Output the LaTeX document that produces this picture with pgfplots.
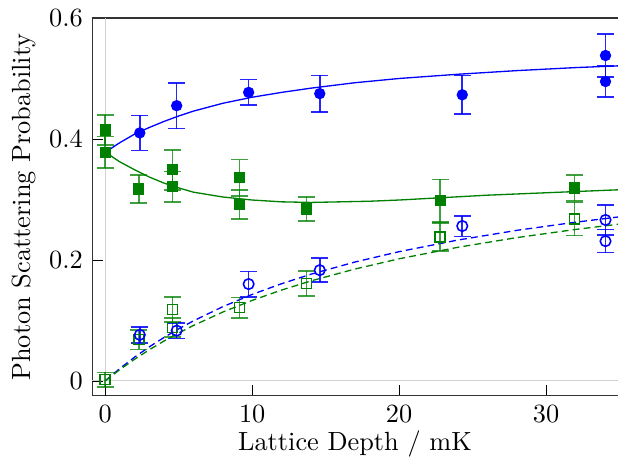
\documentclass[border=0pt]{standalone}
\usepackage{pgfplots}
\pgfplotsset{compat=1.18}

\definecolor{mplblue}{RGB}{0,0,255}
\definecolor{mplgreen}{RGB}{0,128,0}

\begin{document}
\begin{tikzpicture}
  \begin{axis}[
      scale only axis,
      width=200pt, height=143.7pt,
      xmin=-0.9, xmax=34.9,
      ymin=-0.025, ymax=0.6,
      xtick={0,10,20,30},
      ytick={0,0.2,0.4,0.6},
      yticklabels={0,0.2,0.4,0.6},
      xtick pos=bottom,
      axis y line*=left,
      y axis line style={-},
      axis line style={black!80},
      tick style={black},
      tick align=inside,
      extra x ticks={0}, extra x tick labels={},
      extra y ticks={0}, extra y tick labels={},
      extra tick style={grid=major, major grid style={black!18, line width=0.5pt}},
      xlabel={Lattice Depth / mK},
      ylabel={Photon Scattering Probability},
      xlabel style={yshift=3.5pt},
      ylabel style={yshift=-2pt},
      every axis plot/.append style={line width=0.5pt},
      error bars/error bar style={line width=0.6pt},
      error bars/error mark options={rotate=90, mark size=3.2pt, line width=0.6pt},
    ]

    % fitted curves
    \addplot[mplblue, no markers] coordinates {
      (0,0.378) (1,0.394) (2,0.408) (3,0.419) (4,0.429) (5,0.438) (6,0.446)
      (8,0.459) (10,0.469) (12,0.477) (14,0.484) (17,0.493) (20,0.500)
      (24,0.507) (28,0.513) (32,0.518) (35,0.521)
    };
    \addplot[mplgreen, no markers] coordinates {
      (0,0.378) (1,0.362) (2,0.349) (3,0.337) (4,0.327) (5,0.319) (6,0.312)
      (8,0.304) (10,0.299) (12,0.296) (14,0.295) (16,0.296) (18,0.297)
      (20,0.299) (23,0.303) (26,0.307) (29,0.310) (32,0.313) (35,0.316)
    };
    \addplot[mplblue, no markers, dash pattern=on 2.6pt off 1.6pt] coordinates {
      (0,0) (1,0.0205) (2,0.0392) (3,0.0562) (4,0.0717) (5,0.0860) (6,0.0991)
      (8,0.1226) (10,0.1429) (12,0.1606) (14,0.1763) (17,0.1965) (20,0.2136)
      (24,0.2328) (28,0.2488) (32,0.2623) (35,0.2712)
    };
    \addplot[mplgreen, no markers, dash pattern=on 2.6pt off 1.6pt] coordinates {
      (0,0) (1,0.0187) (2,0.0357) (3,0.0514) (4,0.0658) (5,0.0791) (6,0.0915)
      (8,0.1137) (10,0.1330) (12,0.1501) (14,0.1652) (17,0.1849) (20,0.2018)
      (24,0.2208) (28,0.2368) (32,0.2503) (35,0.2592)
    };

    % filled green squares
    \addplot[mplgreen, only marks, mark=square*, mark size=1.9pt,
      error bars/.cd, y dir=both, y explicit,
      error bar style={mplgreen, opacity=0.75}] coordinates {
      (0,0.415) +- (0,0.025)
      (0,0.378) +- (0,0.026)
      (2.28,0.317) +- (0,0.023)
      (4.57,0.349) +- (0,0.033)
      (4.57,0.321) +- (0,0.025)
      (9.15,0.336) +- (0,0.030)
      (9.15,0.292) +- (0,0.024)
      (13.69,0.284) +- (0,0.020)
      (22.8,0.298) +- (0,0.035)
      (31.94,0.319) +- (0,0.021)
    };
    % filled blue circles
    \addplot[mplblue, only marks, mark=*, mark size=1.9pt,
      error bars/.cd, y dir=both, y explicit,
      error bar style={mplblue, opacity=0.85}] coordinates {
      (2.35,0.410) +- (0,0.029)
      (4.86,0.455) +- (0,0.038)
      (9.76,0.477) +- (0,0.021)
      (14.6,0.475) +- (0,0.030)
      (24.3,0.473) +- (0,0.032)
      (34.05,0.538) +- (0,0.036)
      (34.05,0.495) +- (0,0.026)
    };
    % open green squares
    \addplot[mplgreen, only marks, mark=square, mark size=1.9pt,
      mark options={fill=white, line width=0.6pt},
      error bars/.cd, y dir=both, y explicit,
      error bar style={mplgreen, opacity=0.75}] coordinates {
      (0,0.002) +- (0,0.012)
      (2.28,0.068) +- (0,0.016)
      (4.57,0.118) +- (0,0.021)
      (4.57,0.088) +- (0,0.016)
      (9.15,0.121) +- (0,0.017)
      (13.69,0.161) +- (0,0.021)
      (22.8,0.238) +- (0,0.023)
      (31.94,0.268) +- (0,0.028)
    };
    % open blue circles
    \addplot[mplblue, only marks, mark=o, mark size=2pt,
      mark options={fill=white, line width=0.6pt},
      error bars/.cd, y dir=both, y explicit,
      error bar style={mplblue, opacity=0.85}] coordinates {
      (2.35,0.076) +- (0,0.013)
      (4.86,0.083) +- (0,0.013)
      (9.76,0.160) +- (0,0.021)
      (14.6,0.183) +- (0,0.020)
      (24.3,0.256) +- (0,0.017)
      (34.05,0.266) +- (0,0.025)
      (34.05,0.231) +- (0,0.019)
    };
  \end{axis}
  \pgfresetboundingbox
  \path ([xshift=-35pt,yshift=-24.3pt]current axis.south west)
    rectangle ([yshift=6.85pt]current axis.north east);
\end{tikzpicture}
\end{document}
